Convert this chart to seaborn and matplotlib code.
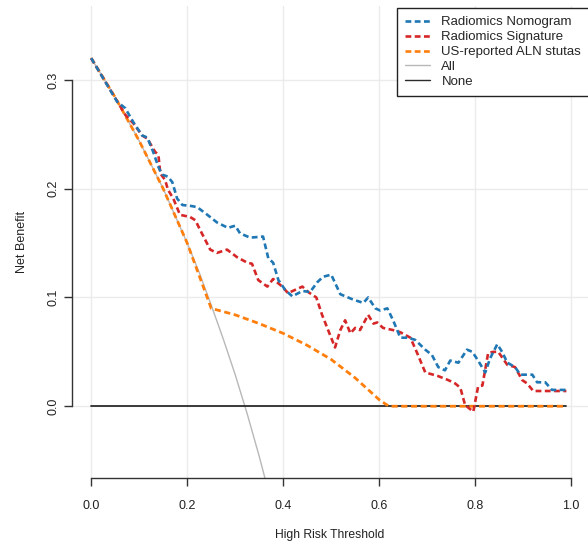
import numpy as np
import pandas as pd
import matplotlib
matplotlib.use("Agg")
import matplotlib.pyplot as plt
import seaborn as sns
from matplotlib.lines import Line2D

# Decision curve values (threshold probability, net benefit)
nomogram_x = [0.000, 0.054, 0.071, 0.088, 0.106, 0.117, 0.129, 0.140, 0.148, 0.160,
              0.169, 0.179, 0.190, 0.210, 0.221, 0.242, 0.262, 0.285, 0.300, 0.310,
              0.331, 0.358, 0.369, 0.379, 0.390, 0.404, 0.419, 0.440, 0.456, 0.471,
              0.483, 0.500, 0.519, 0.546, 0.567, 0.577, 0.592, 0.602, 0.617, 0.629,
              0.644, 0.660, 0.675, 0.696, 0.710, 0.723, 0.737, 0.748, 0.765, 0.783,
              0.794, 0.806, 0.821, 0.831, 0.846, 0.856, 0.867, 0.883, 0.894, 0.919,
              0.929, 0.946, 0.960, 0.990]
nomogram_nb = [0.320, 0.280, 0.274, 0.261, 0.249, 0.247, 0.234, 0.220, 0.213, 0.211,
               0.206, 0.191, 0.185, 0.184, 0.183, 0.176, 0.169, 0.164, 0.166, 0.159,
               0.155, 0.156, 0.136, 0.132, 0.116, 0.107, 0.101, 0.106, 0.105, 0.114,
               0.119, 0.121, 0.103, 0.098, 0.095, 0.100, 0.090, 0.088, 0.090, 0.079,
               0.063, 0.063, 0.061, 0.052, 0.047, 0.036, 0.033, 0.042, 0.040, 0.052,
               0.050, 0.042, 0.031, 0.044, 0.057, 0.050, 0.040, 0.036, 0.029, 0.029,
               0.022, 0.022, 0.015, 0.015]

signature_x = [0.000, 0.071, 0.088, 0.106, 0.117, 0.133, 0.140, 0.144, 0.154, 0.160,
               0.171, 0.185, 0.206, 0.217, 0.227, 0.248, 0.262, 0.283, 0.304, 0.325,
               0.335, 0.348, 0.367, 0.379, 0.398, 0.410, 0.440, 0.452, 0.469, 0.481,
               0.508, 0.519, 0.529, 0.540, 0.550, 0.560, 0.577, 0.588, 0.596, 0.608,
               0.629, 0.644, 0.665, 0.679, 0.696, 0.721, 0.744, 0.758, 0.769, 0.779,
               0.796, 0.806, 0.815, 0.827, 0.838, 0.848, 0.867, 0.883, 0.898, 0.908,
               0.921, 0.950, 0.990]
signature_nb = [0.320, 0.268, 0.260, 0.249, 0.246, 0.234, 0.231, 0.214, 0.208, 0.199,
                0.191, 0.176, 0.174, 0.171, 0.162, 0.144, 0.141, 0.144, 0.137, 0.132,
                0.131, 0.116, 0.110, 0.117, 0.110, 0.104, 0.110, 0.105, 0.100, 0.084,
                0.054, 0.070, 0.079, 0.067, 0.072, 0.070, 0.084, 0.076, 0.077, 0.072,
                0.070, 0.068, 0.063, 0.049, 0.031, 0.028, 0.024, 0.021, 0.017, 0.001,
                -0.005, 0.018, 0.019, 0.049, 0.050, 0.050, 0.038, 0.036, 0.024, 0.021,
                0.014, 0.014, 0.014]

us_x = [0.00, 0.05, 0.10, 0.15, 0.20, 0.25, 0.30, 0.35, 0.40, 0.45, 0.50, 0.55,
        0.60, 0.62, 0.99]
us_nb = [0.320, 0.284, 0.244, 0.200, 0.150, 0.090, 0.084, 0.076, 0.067, 0.056,
         0.043, 0.026, 0.006, 0.000, 0.000]

all_x = [0.000, 0.050, 0.100, 0.150, 0.200, 0.225, 0.250, 0.275, 0.300, 0.325,
         0.350, 0.375, 0.400]
all_nb = [0.320, 0.284, 0.244, 0.200, 0.150, 0.123, 0.093, 0.062, 0.029, -0.007,
          -0.046, -0.088, -0.133]

none_x = [0.00, 0.99]
none_nb = [0.0, 0.0]

x_ticks = [0.0, 0.2, 0.4, 0.6, 0.8, 1.0]
y_ticks = [0.0, 0.1, 0.2, 0.3]

sns.set_theme(style="whitegrid")
plt.rcParams["font.family"] = ["Liberation Sans", "DejaVu Sans"]

W, H = 588, 546
fig = plt.figure(figsize=(W / 100, H / 100), dpi=100)
ax = fig.add_axes([72 / W, (H - 478) / H, (W - 72) / W, (478 - 6) / H])
ax.set_facecolor("white")

ax.set_xlim(-0.04, -0.04 + 516 / 480)
ax.set_ylim(-0.066, 0.368)

dash = (2.2, 1.3)
sns.lineplot(x=all_x, y=all_nb, ax=ax, color="#b8b8b8", linewidth=1.0,
             estimator=None, sort=False, zorder=2)
sns.lineplot(x=none_x, y=none_nb, ax=ax, color="#2b2b2b", linewidth=1.3,
             estimator=None, sort=False, zorder=2)
sns.lineplot(x=us_x, y=us_nb, ax=ax, color="#ff7f0e", linewidth=2.0,
             estimator=None, sort=False, zorder=3)
ax.lines[-1].set_dashes(dash)
sns.lineplot(x=signature_x, y=signature_nb, ax=ax, color="#d62728", linewidth=1.9,
             estimator=None, sort=False, zorder=4)
ax.lines[-1].set_dashes(dash)
sns.lineplot(x=nomogram_x, y=nomogram_nb, ax=ax, color="#1f77b4", linewidth=1.9,
             estimator=None, sort=False, zorder=5)
ax.lines[-1].set_dashes(dash)

ax.grid(True, color="#ebebeb", linewidth=1.0)
ax.set_xticks(x_ticks)
ax.set_yticks(y_ticks)
ax.set_xticklabels([f"{v:.1f}" for v in x_ticks])
ax.set_yticklabels([f"{v:.1f}" for v in y_ticks], rotation=90, va="center")

for side in ("top", "right"):
    ax.spines[side].set_visible(False)
for side in ("left", "bottom"):
    ax.spines[side].set_color("#333333")
    ax.spines[side].set_linewidth(1.0)
ax.spines["left"].set_bounds(0.0, 0.3)
ax.spines["bottom"].set_bounds(0.0, 1.0)

ax.tick_params(axis="both", which="both", direction="out", length=6, width=1.0,
               color="#333333", labelsize=9, labelcolor="#222222",
               left=True, bottom=True)
ax.tick_params(axis="x", pad=10)
ax.tick_params(axis="y", pad=3)

ax.set_xlabel("High Risk Threshold", fontsize=8.7, color="#222222", labelpad=12)
ax.set_ylabel("Net Benefit", fontsize=9, color="#222222", labelpad=14)

handles = [
    Line2D([], [], color="#1f77b4", linewidth=1.9, dashes=dash),
    Line2D([], [], color="#d62728", linewidth=1.9, dashes=dash),
    Line2D([], [], color="#ff7f0e", linewidth=1.9, dashes=dash),
    Line2D([], [], color="#b8b8b8", linewidth=1.0),
    Line2D([], [], color="#2b2b2b", linewidth=1.0),
]
labels = ["Radiomics Nomogram", "Radiomics Signature", "US-reported ALN stutas",
          "All", "None"]
leg = fig.legend(handles, labels, loc="upper left",
                 bbox_to_anchor=(397 / W, 1 - 8 / H), bbox_transform=fig.transFigure,
                 fontsize=9.5, frameon=True, fancybox=False, framealpha=1,
                 edgecolor="#222222", handlelength=1.9, handletextpad=0.85,
                 labelspacing=0.2, borderpad=0.62, borderaxespad=0)
leg.get_frame().set_linewidth(1.0)

fig.savefig("out.png", dpi=100)
